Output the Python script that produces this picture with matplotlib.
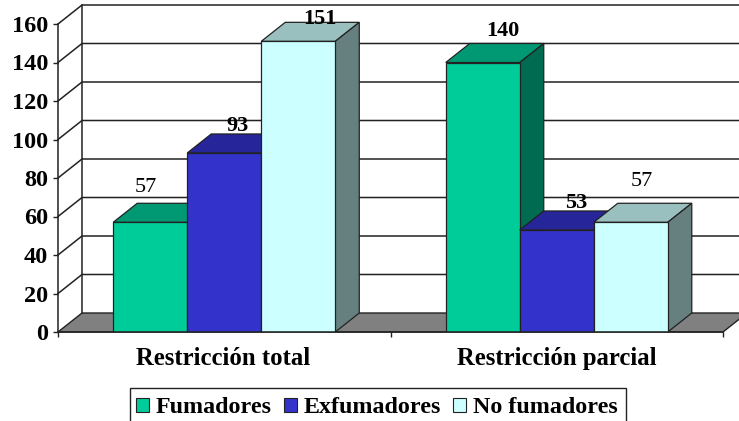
import matplotlib
matplotlib.use("Agg")
import matplotlib.pyplot as plt
from matplotlib.patches import Patch, Rectangle

categories = ['Restricción total', 'Restricción parcial']
series_names = ['Fumadores', 'Exfumadores', 'No fumadores']
fumadores = [57, 140]
exfumadores = [93, 53]
no_fumadores = [151, 57]
yticks = [0, 20, 40, 60, 80, 100, 120, 140, 160]

front_colors = ['#00CC99', '#3333CC', '#CCFFFF']
top_colors = ['#009973', '#26269A', '#99BFBF']
side_colors = ['#006B50', '#1A1A66', '#668080']
edge = '#222222'
serif = ['Liberation Serif', 'DejaVu Serif']

W, H = 739, 421
# front plane of the chart in pixels
left, right, y0, y160 = 58, 723, 332, 24
depth_px_x, depth_px_y = 24, 19

# how far each value label sits from its bar, in pixels (x, y)
label_offsets = [[(-4, 35), (13, 27), (22, 22)],
                 [(20, 32), (19, 27), (11, 41)]]
label_weights = [['normal', 'bold', 'bold'],
                 ['bold', 'bold', 'normal']]

fig = plt.figure(figsize=(W / 100, H / 100), dpi=100)
ax = fig.add_axes([left / W, 1 - y0 / H, (right - left) / W, (y0 - y160) / H])
ax.set_xlim(0, 2)
ax.set_ylim(0, 160)

dx = depth_px_x / ((right - left) / 2)
dy = depth_px_y / ((y0 - y160) / 160)

# floor, walls and gridlines
ax.fill([0, dx, 2 + dx, 2], [0, dy, dy, 0], color='#808080', ec=edge, lw=1, clip_on=False, zorder=1)
for t in yticks[1:]:
    ax.plot([0, dx, 2 + dx], [t, t + dy, t + dy], color=edge, lw=1.1, clip_on=False, zorder=1)
ax.plot([dx, dx], [dy, 160 + dy], color=edge, lw=1.1, clip_on=False, zorder=1)

values = [fumadores, exfumadores, no_fumadores]
width = 0.2226
for g in range(len(categories)):
    for s in range(len(series_names)):
        x0 = g + 0.5 + (s - 1.5) * width
        v = values[s][g]
        ax.fill([x0, x0 + dx, x0 + width + dx, x0 + width], [v, v + dy, v + dy, v],
                color=top_colors[s], ec=edge, lw=0.9, clip_on=False, zorder=2 + s)
        ax.fill([x0 + width, x0 + width + dx, x0 + width + dx, x0 + width], [0, dy, v + dy, v],
                color=side_colors[s], ec=edge, lw=0.9, clip_on=False, zorder=2 + s)
        ax.bar(x0, v, width, align='edge', color=front_colors[s], ec=edge, lw=0.9, zorder=2 + s)
        off = label_offsets[g][s]
        ax.annotate(str(v), (x0 + width / 2, v), xytext=(off[0] * 0.72, off[1] * 0.72),
                    textcoords='offset points', ha='center', va='center', family=serif,
                    fontsize=16, fontweight=label_weights[g][s], color='black', zorder=10,
                    annotation_clip=False)

for side in ['top', 'right']:
    ax.spines[side].set_visible(False)
for side in ['left', 'bottom']:
    ax.spines[side].set_color(edge)
    ax.spines[side].set_linewidth(1.1)
    ax.spines[side].set_zorder(9)

ax.set_yticks(yticks)
ax.set_yticklabels([str(t) for t in yticks], family=serif, fontsize=17.5, fontweight='bold')
ax.set_xticks([0, 1, 2])
ax.set_xticklabels([])
ax.tick_params(axis='y', length=3.5, width=1, color=edge, pad=3.6)
ax.tick_params(axis='x', length=3.5, width=1, color=edge)

for g, name in enumerate(categories):
    ax.annotate(name, (g + 0.5, 0), xytext=(0 if g else -1, -19), textcoords='offset points',
                ha='center', va='center', family=serif, fontsize=17.8, fontweight='bold',
                annotation_clip=False)

# legend box runs off the bottom of the picture
fig.add_artist(Rectangle((130 / W, -5 / H), 496 / W, 38 / H, transform=fig.transFigure,
                         fc='white', ec=edge, lw=1, zorder=5))
handles = [Patch(facecolor=c, edgecolor=edge, lw=0.8, label=n) for c, n in zip(front_colors, series_names)]
leg = fig.legend(handles=handles, ncol=3, loc='lower left', bbox_to_anchor=(130 / W, -0.008),
                 borderaxespad=0, frameon=False,
                 prop={'family': serif, 'size': 17.3, 'weight': 'bold'},
                 handlelength=0.55, handleheight=0.55, handletextpad=0.27, columnspacing=0.5,
                 borderpad=0.25)
leg.set_zorder(6)

fig.savefig('out.png', dpi=100)
